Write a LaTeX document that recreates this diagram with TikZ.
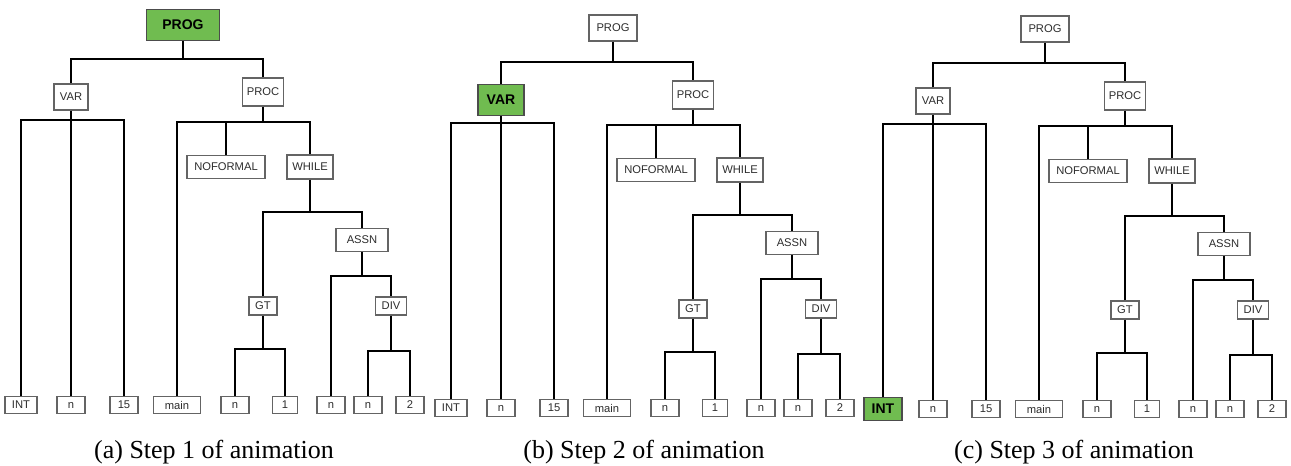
\documentclass[tikz,border=0pt]{standalone}
\usepackage{fontspec}
\newfontfamily\boxfont{Liberation Sans}
\newfontfamily\capfont{Liberation Serif}
\definecolor{hlgreen}{RGB}{112,188,80}
\definecolor{boxgray}{RGB}{100,100,100}
\definecolor{txt}{RGB}{45,45,45}
\tikzset{
  bx/.style 2 args={draw=boxgray, line width=1.2pt, fill=white, text=txt,
    font=\boxfont\fontsize{11.2}{13}\selectfont, inner sep=0pt,
    minimum width=#1pt, minimum height=#2pt},
  hl/.style={fill=hlgreen, draw=black!70, text=black,
    font=\boxfont\fontsize{14}{16}\selectfont\bfseries},
  edge/.style={line width=2pt, black},
  captext/.style={font=\capfont\fontsize{26}{30}\selectfont, inner sep=0pt},
  progsty/.style={}, varsty/.style={}, intsty/.style={}
}
\newcommand\asttree{%
  \node[bx={48}{26}, progsty] (prog) at (183,28) {PROG};
  \node[bx={34}{26}, varsty] (var) at (71,100) {VAR};
  \node[bx={41}{28}] (proc) at (263,95) {PROC};
  \node[bx={78}{23}] (nof) at (226,170) {NOFORMAL};
  \node[bx={46}{24}] (while) at (310,170) {WHILE};
  \node[bx={52}{23}] (assn) at (362,243) {ASSN};
  \node[bx={28}{18}] (gt) at (263,309) {GT};
  \node[bx={31}{18}] (div) at (391,309) {DIV};
  \node[bx={32}{17}, intsty] (int) at (21,408) {INT};
  \node[bx={28}{17}] (n1) at (71,408) {n};
  \node[bx={28}{17}] (fifteen) at (124,408) {15};
  \node[bx={47}{17}] (main) at (177,408) {main};
  \node[bx={28}{17}] (n2) at (235,408) {n};
  \node[bx={25}{17}] (one) at (285,408) {1};
  \node[bx={28}{17}] (n3) at (331,408) {n};
  \node[bx={28}{17}] (n4) at (368,408) {n};
  \node[bx={28}{17}] (two) at (410,408) {2};
  \coordinate (pb) at (183,62);
  \coordinate (vb) at (71,123);
  \coordinate (pcb) at (263,125);
  \coordinate (wb) at (310,215);
  \coordinate (ab) at (362,279);
  \coordinate (gb) at (260,352);
  \coordinate (db) at (391,354);
  \draw[edge] (prog.south) -- (pb);
  \draw[edge] (var.north) |- (pb) -| (proc.north);
  \draw[edge] (var.south) -- (n1.north);
  \draw[edge] (int.north) |- (vb) -| (fifteen.north);
  \draw[edge] (proc.south) -- (pcb);
  \draw[edge] (main.north) |- (pcb) -| (while.north);
  \draw[edge] (nof.north) -- (nof.north |- pcb);
  \draw[edge] (while.south) -- (wb);
  \draw[edge] (gt.north) |- (wb) -| (assn.north);
  \draw[edge] (assn.south) -- (ab);
  \draw[edge] (n3.north) |- (ab) -| (div.north);
  \draw[edge] (gt.south) -- (gt.south |- gb);
  \draw[edge] (n2.north) |- (gb) -| (one.north);
  \draw[edge] (div.south) -- (db);
  \draw[edge] (n4.north) |- (db) -| (two.north);
}
\begin{document}
\begin{tikzpicture}[x=1pt, y=-1pt]
  \useasboundingbox[fill=white] (0,0) rectangle (1291,466);
  \begin{scope}[shift={(0,-3)}, name prefix=a-,
      progsty/.style={hl, minimum width=73pt, minimum height=31pt}]
    \asttree
  \end{scope}
  \begin{scope}[shift={(430,0)}, name prefix=b-,
      varsty/.style={hl, minimum width=46pt, minimum height=31pt}]
    \asttree
  \end{scope}
  \begin{scope}[shift={(862,1)}, name prefix=c-,
      intsty/.style={hl, minimum width=38pt, minimum height=23pt}]
    \asttree
  \end{scope}
  \node[captext] (capa) at (214,452) {(a) Step 1 of animation};
  \node[captext] (capb) at (644,452) {(b) Step 2 of animation};
  \node[captext] (capc) at (1074,452) {(c) Step 3 of animation};
\end{tikzpicture}
\end{document}
